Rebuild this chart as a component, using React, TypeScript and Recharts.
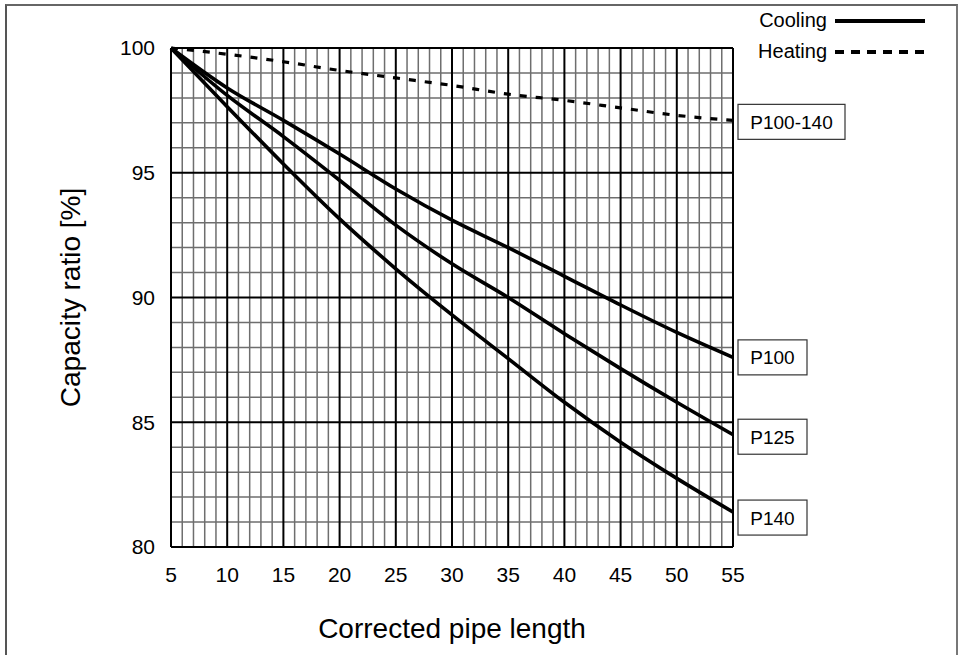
import React from 'react';
import {
  LineChart,
  Line,
  XAxis,
  YAxis,
  ReferenceLine,
} from 'recharts';

// corrected pipe length (m)
const lengths = [5, 10, 15, 20, 25, 30, 35, 40, 45, 50, 55];

// capacity ratio [%]
const coolingP100 = [100, 98.4, 97.1, 95.75, 94.35, 93.1, 92.0, 90.85, 89.7, 88.6, 87.6];
const coolingP125 = [100, 98.1, 96.45, 94.7, 92.9, 91.35, 90.0, 88.55, 87.15, 85.8, 84.5];
const coolingP140 = [100, 97.65, 95.35, 93.15, 91.15, 89.3, 87.55, 85.8, 84.2, 82.75, 81.4];
const heatingAll = [100, 99.75, 99.45, 99.1, 98.8, 98.5, 98.15, 97.9, 97.6, 97.3, 97.1];

const xTicks = [5, 10, 15, 20, 25, 30, 35, 40, 45, 50, 55];
const yTicks = [80, 85, 90, 95, 100];

const data = lengths.map((len, i) => ({
  len,
  p100: coolingP100[i],
  p125: coolingP125[i],
  p140: coolingP140[i],
  heat: heatingAll[i],
}));

// fine grid every 1 unit on both axes
const xMinor: number[] = [];
for (let v = 5; v <= 55; v++) if (v % 5 !== 0) xMinor.push(v);
const yMinor: number[] = [];
for (let v = 80; v <= 100; v++) if (v % 5 !== 0) yMinor.push(v);

const FONT = '"Liberation Sans", Arial, sans-serif';
const last = lengths.length - 1;

function endLabel(text: string, boxW: number, dy = 0) {
  return (props: any) => {
    if (props.index !== last) return <g key={props.index} />;
    const x = props.x + 5;
    const y = props.y + dy;
    return (
      <g key={props.index}>
        <rect x={x} y={y - 17.5} width={boxW} height={35} fill="#fff" stroke="#333" strokeWidth={1.2} />
        <text x={x + boxW / 2} y={y + 7} textAnchor="middle" fontSize={19} fontFamily={FONT} fill="#000">
          {text}
        </text>
      </g>
    );
  };
}

function LegendBox() {
  const row = (label: string, dash?: string) => (
    <div style={{ display: 'flex', alignItems: 'center', height: 31 }}>
      <span style={{ fontSize: 20, fontFamily: FONT, color: '#000', marginRight: 8 }}>{label}</span>
      <svg width={90} height={6}>
        <line x1={0} y1={3} x2={90} y2={3} stroke="#000" strokeWidth={4} strokeDasharray={dash} />
      </svg>
    </div>
  );
  return (
    <div
      style={{
        position: 'absolute',
        top: 5,
        left: 700,
        width: 225,
        display: 'flex',
        flexDirection: 'column',
        alignItems: 'flex-end',
      }}
    >
      {row('Cooling')}
      {row('Heating', '9 7')}
    </div>
  );
}

export default function App() {
  return (
    <div style={{ position: 'absolute', left: 0, top: 0, width: 958, height: 655, background: '#fff' }}>
      <div
        style={{
          position: 'absolute',
          left: 5,
          top: 4,
          width: 949,
          height: 649,
          borderLeft: '2px solid #555',
          borderTop: '2px solid #666',
          borderRight: '2px solid #777',
          borderBottom: '2px solid #ccc',
        }}
      />
      <LineChart
        width={958}
        height={655}
        data={data}
        margin={{ top: 48, right: 225, left: 0, bottom: 68 }}
        style={{ position: 'absolute', left: 0, top: 0 }}
      >
        <XAxis
          dataKey="len"
          type="number"
          domain={[5, 55]}
          ticks={xTicks}
          axisLine={false}
          tickLine={false}
          tickSize={0}
          tickMargin={20}
          height={40}
          tick={{ fill: '#000', fontSize: 21, fontFamily: FONT }}
          label={{
            content: (p: any) => (
              <text
                x={p.viewBox.x + p.viewBox.width / 2}
                y={p.viewBox.y + 91}
                textAnchor="middle"
                fontSize={28}
                fontFamily={FONT}
                fill="#000"
              >
                Corrected pipe length
              </text>
            ),
          }}
        />
        <YAxis
          type="number"
          domain={[80, 100]}
          ticks={yTicks}
          axisLine={false}
          tickLine={false}
          tickSize={0}
          tickMargin={16}
          width={171}
          tick={{ fill: '#000', fontSize: 21, fontFamily: FONT }}
          label={{
            content: (p: any) => {
              const cx = 80;
              const cy = p.viewBox.y + p.viewBox.height / 2;
              return (
                <text
                  x={cx}
                  y={cy}
                  transform={`rotate(-90, ${cx}, ${cy})`}
                  textAnchor="middle"
                  fontSize={28}
                  fontFamily={FONT}
                  fill="#000"
                >
                  Capacity ratio [%]
                </text>
              );
            },
          }}
        />
        {xMinor.map((v) => (
          <ReferenceLine key={'xm' + v} x={v} stroke="#6e6e6e" strokeWidth={1.5} />
        ))}
        {yMinor.map((v) => (
          <ReferenceLine key={'ym' + v} y={v} stroke="#6e6e6e" strokeWidth={1.5} />
        ))}
        {xTicks.map((v) => (
          <ReferenceLine key={'xM' + v} x={v} stroke="#000" strokeWidth={2} />
        ))}
        {yTicks.map((v) => (
          <ReferenceLine key={'yM' + v} y={v} stroke="#000" strokeWidth={2} />
        ))}
        <Line
          type="monotone"
          dataKey="heat"
          name="Heating"
          stroke="#000"
          strokeWidth={3.2}
          strokeDasharray="7 9"
          dot={false}
          isAnimationActive={false}
          label={endLabel('P100-140', 107, 1.5)}
        />
        <Line
          type="monotone"
          dataKey="p100"
          name="P100"
          stroke="#000"
          strokeWidth={3.6}
          dot={false}
          isAnimationActive={false}
          label={endLabel('P100', 69)}
        />
        <Line
          type="monotone"
          dataKey="p125"
          name="P125"
          stroke="#000"
          strokeWidth={3.6}
          dot={false}
          isAnimationActive={false}
          label={endLabel('P125', 69, 2)}
        />
        <Line
          type="monotone"
          dataKey="p140"
          name="P140"
          stroke="#000"
          strokeWidth={3.6}
          dot={false}
          isAnimationActive={false}
          label={endLabel('P140', 69, 5.5)}
        />
      </LineChart>
      <LegendBox />
    </div>
  );
}
